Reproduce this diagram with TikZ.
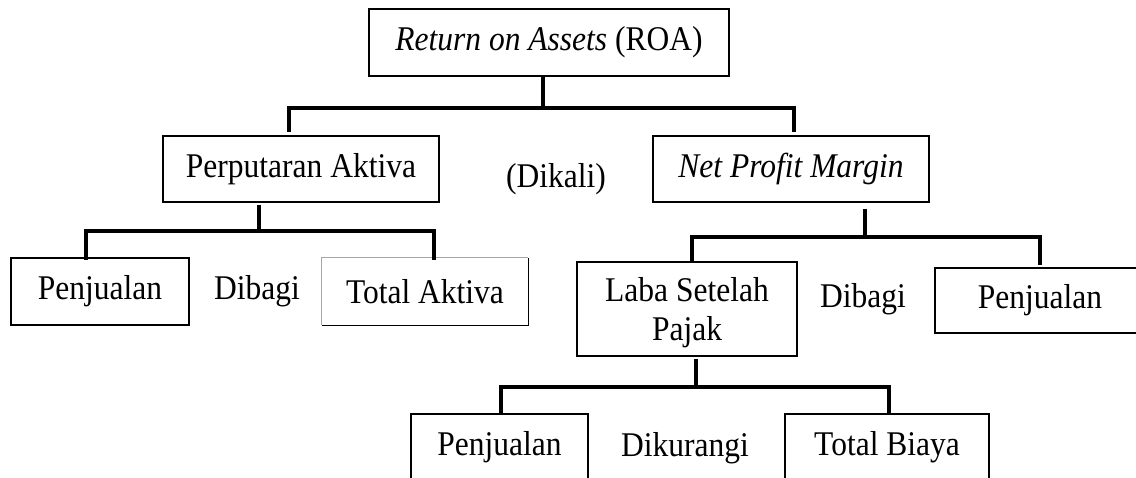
\documentclass[tikz,border=0pt]{standalone}
\usepackage{fontspec}
\usepackage{graphicx}
\setmainfont{Liberation Serif}
\newcommand{\vtxt}[1]{\scalebox{1}[1.1]{#1}}
\begin{document}
\begin{tikzpicture}[x=1pt,y=-1pt,
  txt/.style={inner sep=0pt, align=center, font=\fontsize{31.5}{37}\selectfont},
  box/.style={txt, draw, line width=1.1pt},
  openbox/.style={txt},
  conn/.style={line width=4.6pt, line join=miter}]
\useasboundingbox (0,0) rectangle (1136,477);
\clip (0,0) rectangle (1136,477);
\fill[white] (0,0) rectangle (1136,477);

% boxes
\node[box, minimum width=360pt, minimum height=67pt] (roa) at (549,42.5) {\vtxt{\textit{Return on Assets} (ROA)}};
\node[box, minimum width=276pt, minimum height=66pt] (perp) at (301,169) {\vtxt{Perputaran Aktiva}};
\node[box, minimum width=276pt, minimum height=66pt] (npm) at (791,169) {\vtxt{\textit{Net Profit Margin}}};
\node[box, minimum width=178pt, minimum height=67pt] (pen1) at (100,291.5) {\vtxt{Penjualan}};
\node[openbox, minimum width=206pt, minimum height=67pt] (ta) at (425,291.5) {\vtxt{Total Aktiva}};
\node[box, minimum width=220pt, minimum height=94pt, text depth=0pt] (laba) at (687,309) {\vtxt{Laba Setelah}\\[2pt]\vtxt{Pajak}};
\node[box, minimum width=210pt, minimum height=65pt] (pen2) at (1040,300.5) {\vtxt{Penjualan}};
\node[box, minimum width=177pt, minimum height=67pt] (pen3) at (499.5,447.5) {\vtxt{Penjualan}};
\node[box, minimum width=204pt, minimum height=67pt] (tb) at (887,447.5) {\vtxt{Total Biaya}};

% Total Aktiva border: light top/left, dark right/bottom
\draw[line width=1pt, black!35] (ta.south west) -- (ta.north west) -- (ta.north east);
\draw[line width=1.1pt] (ta.north east) -- (ta.south east) -- (ta.south west);

% operator labels
\node[txt] (dikali) at (556,179) {\vtxt{(Dikali)}};
\node[txt] (dibagi1) at (257,291) {\vtxt{Dibagi}};
\node[txt] (dibagi2) at (863,299) {\vtxt{Dibagi}};
\node[txt] (dikurangi) at (685,448) {\vtxt{Dikurangi}};

% connector coordinates
\coordinate (b1) at (543,108);
\coordinate (kL1) at (289,132);
\coordinate (kR1) at (794,132);
\coordinate (b2) at (259,231);
\coordinate (kL2) at (86,260);
\coordinate (kR2) at (434,260);
\coordinate (b3) at (865,237);
\coordinate (kL3) at (692,262);
\coordinate (kR3) at (1040,265);
\coordinate (b4) at (696,387);
\coordinate (kL4) at (501,414);
\coordinate (kR4) at (889,414);

% connectors
\draw[conn] ([xshift=-6pt]roa.south) -- (b1);
\draw[conn] (kL1) |- (b1) -| (kR1);
\draw[conn] ([xshift=-42pt,yshift=-2pt]perp.south) -- (b2);
\draw[conn] (kL2) |- (b2) -| (kR2);
\draw[conn] ([xshift=74pt,yshift=-6pt]npm.south) -- (b3);
\draw[conn] (kL3) |- (b3) -| (kR3);
\draw[conn] ([xshift=9pt,yshift=-2pt]laba.south) -- (b4);
\draw[conn] (kL4) |- (b4) -| (kR4);
\end{tikzpicture}
\end{document}
